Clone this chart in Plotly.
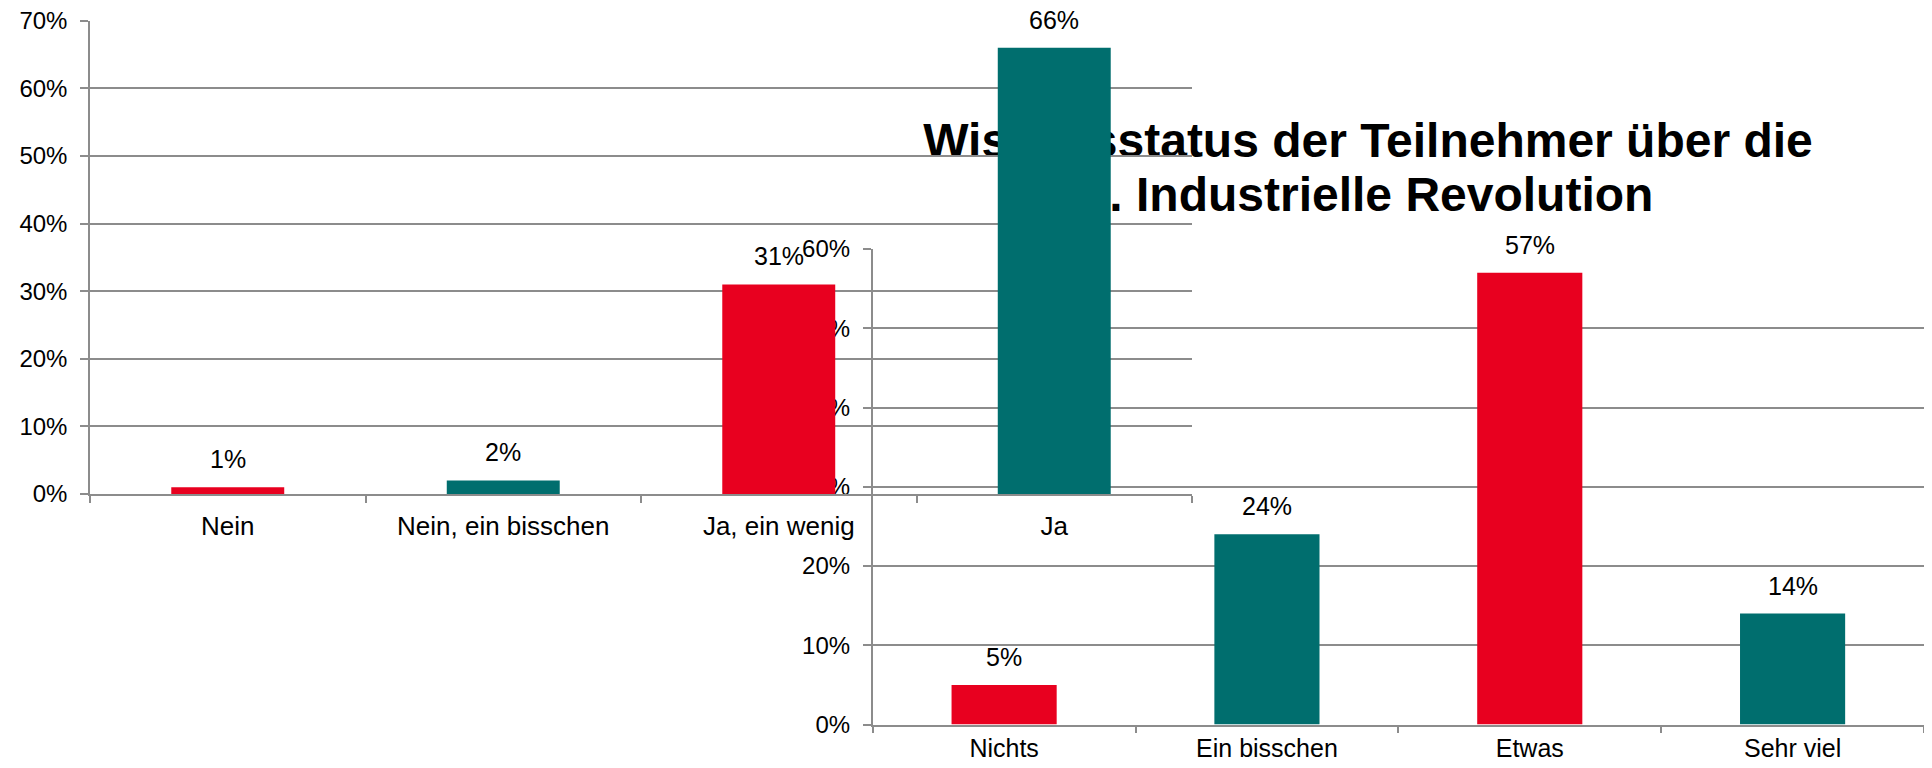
import plotly.graph_objects as go

# left chart (drawn on top)
cats_left = ["Nein", "Nein, ein bisschen", "Ja, ein wenig", "Ja"]
vals_left = [0.01, 0.02, 0.31, 0.66]

# right chart (with the title)
cats_right = ["Nichts", "Ein bisschen", "Etwas", "Sehr viel"]
vals_right = [0.05, 0.24, 0.57, 0.14]

title_lines = ["Wissensstatus der Teilnehmer über die", "4. Industrielle Revolution"]

RED = "#E8001F"
TEAL = "#006E6E"
GRID = "#8C8C8C"
FONT = "Liberation Sans, Arial, sans-serif"

# the page body has an 8px margin, so the figure is 16px smaller than the window
OFF = 8
W, H = 1932 - 2 * OFF, 768 - 2 * OFF


def px_x(p):
    return min(1, max(0, (p - OFF) / W))


def px_y(p):
    return min(1, max(0, 1 - (p - OFF) / H))


def alt_colors(n):
    return [RED if i % 2 == 0 else TEAL for i in range(n)]


fig = go.Figure()

# xy = right chart, x2y2 = left chart (later subplot is painted above)
fig.add_trace(go.Bar(x=cats_right, y=vals_right, width=0.4,
                     marker=dict(color=alt_colors(len(vals_right)), line_width=0),
                     xaxis="x", yaxis="y", hoverinfo="x+y"))
fig.add_trace(go.Bar(x=cats_left, y=vals_left, width=0.41,
                     marker=dict(color=alt_colors(len(vals_left)), line_width=0),
                     xaxis="x2", yaxis="y2", hoverinfo="x+y"))

# value labels
for c, v in zip(cats_right, vals_right):
    fig.add_annotation(x=c, y=v, xref="x", yref="y", text=f"{v:.0%}",
                       showarrow=False, yanchor="bottom", yshift=12,
                       font=dict(size=25, color="black", family=FONT))
for c, v in zip(cats_left, vals_left):
    fig.add_annotation(x=c, y=v, xref="x2", yref="y2", text=f"{v:.0%}",
                       showarrow=False, yanchor="bottom", yshift=12,
                       font=dict(size=25, color="black", family=FONT))

xcommon = dict(showline=True, linecolor=GRID, linewidth=1.5, ticks="outside",
               ticklen=7, tickwidth=1.5, tickcolor=GRID, tickson="boundaries",
               showgrid=False, zeroline=False, ticklabelstandoff=8, automargin=False,
               tickfont=dict(size=26, color="black", family=FONT))
ycommon = dict(showline=True, linecolor=GRID, linewidth=1.5, ticks="outside",
               ticklen=8, tickwidth=1.5, tickcolor=GRID, showgrid=True,
               gridcolor=GRID, gridwidth=1.5, zeroline=False, dtick=0.1,
               tickformat=".0%", ticklabelstandoff=8, automargin=False,
               ticklabeloverflow="allow",
               tickfont=dict(size=24, color="black", family=FONT))

fig.update_layout(
    width=W, height=H,
    margin=dict(l=0, r=0, t=0, b=0),
    paper_bgcolor="white", plot_bgcolor="rgba(0,0,0,0)",
    showlegend=False,
    font=dict(family=FONT, color="black"),
    xaxis=dict(xcommon, domain=[px_x(872.7), px_x(1925.5)], anchor="y",
               ticklabelstandoff=1, tickfont=dict(size=25, color="black", family=FONT)),
    yaxis=dict(ycommon, domain=[px_y(724.5), px_y(249)], range=[0, 0.600001], anchor="x"),
    xaxis2=dict(xcommon, domain=[px_x(90), px_x(1192)], anchor="y2"),
    yaxis2=dict(ycommon, domain=[px_y(494), px_y(20.8)], range=[0, 0.700001], anchor="x2"),
)

# title of the right chart, kept beneath the plots so the left "Ja" bar covers it
for line, yc in zip(title_lines, [135, 189]):
    fig.add_shape(type="rect", xref="paper", yref="paper",
                  x0=px_x(900), x1=px_x(1836), y0=px_y(yc + 2), y1=px_y(yc - 2),
                  line_width=0, fillcolor="rgba(0,0,0,0)", layer="below",
                  label=dict(text=line, textposition="middle center",
                             font=dict(size=48, color="black", family=FONT, weight="bold")))

fig.write_html("out.html")
